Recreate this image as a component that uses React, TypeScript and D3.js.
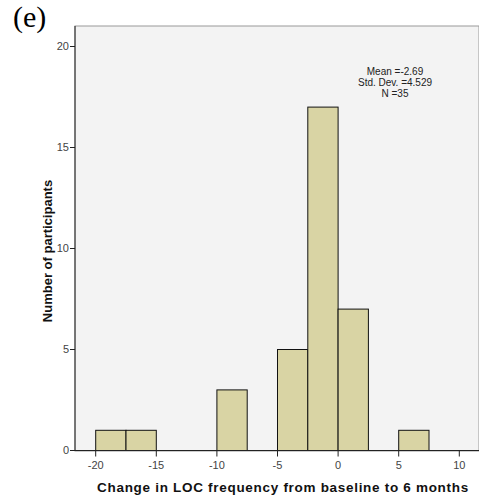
import React from "react";
import * as d3 from "d3";

// Histogram bins (lower edge, upper edge) and counts
const binStarts = [-20, -17.5, -10, -5, -2.5, 0, 5];
const binWidth = 2.5;
const counts = [1, 1, 3, 5, 17, 7, 1];
const xTicks = [-20, -15, -10, -5, 0, 5, 10];
const yTicks = [0, 5, 10, 15, 20];
const statLines = ["Mean =-2.69", "Std. Dev. =4.529", "N =35"];

const W = 479;
const H = 503;
const plot = { left: 75, right: 479, top: 26, bottom: 451 };

export default function App() {
  const x = d3.scaleLinear().domain([-20, 10]).range([95.7, 459.3]);
  const y = d3.scaleLinear().domain([0, 20]).range([450.5, 46.5]);
  const font = "Arial, 'Liberation Sans', sans-serif";

  return (
    <svg
      width={W}
      height={H}
      style={{ position: "absolute", left: 0, top: 0, background: "#fff" }}
      fontFamily={font}
    >
      <text x={13} y={27} fontFamily="'Times New Roman', 'Liberation Serif', serif" fontSize={30} fill="#000">
        (e)
      </text>
      <rect
        x={plot.left}
        y={plot.top}
        width={plot.right - plot.left}
        height={plot.bottom - plot.top}
        fill="#f3f3f3"
        stroke="#999"
        strokeWidth={1}
      />
      {binStarts.map((s, i) => (
        <rect
          key={i}
          x={x(s)}
          y={y(counts[i])}
          width={x(s + binWidth) - x(s)}
          height={y(0) - y(counts[i])}
          fill="#d9d4a4"
          stroke="#111"
          strokeWidth={1}
        />
      ))}
      {/* axes */}
      <line x1={plot.left} x2={plot.left} y1={plot.top} y2={y(0)} stroke="#222" />
      <line x1={plot.left} x2={plot.right} y1={y(0)} y2={y(0)} stroke="#222" />
      {yTicks.map((t) => (
        <g key={t}>
          <line x1={plot.left - 5} x2={plot.left} y1={y(t)} y2={y(t)} stroke="#222" />
          <text x={plot.left - 6} y={y(t)} dy="0.35em" textAnchor="end" fontSize={11} fill="#444">
            {t}
          </text>
        </g>
      ))}
      {xTicks.map((t) => (
        <g key={t}>
          <line x1={x(t)} x2={x(t)} y1={y(0)} y2={y(0) + 6} stroke="#222" />
          <text x={x(t)} y={y(0) + 18} textAnchor="middle" fontSize={11} fill="#444">
            {t}
          </text>
        </g>
      ))}
      <text
        x={283}
        y={492}
        textAnchor="middle"
        fontSize={13.5}
        fontWeight="bold"
        fill="#111"
        letterSpacing={0.7}
      >
        Change in LOC frequency from baseline to 6 months
      </text>
      <text
        transform={`translate(47,${251}) rotate(-90)`}
        textAnchor="middle"
        dy="0.35em"
        fontSize={13}
        fontWeight="bold"
        fill="#111"
      >
        Number of participants
      </text>
      {statLines.map((s, i) => (
        <text key={i} x={395} y={75 + i * 11} textAnchor="middle" fontSize={10} fill="#222">
          {s}
        </text>
      ))}
    </svg>
  );
}
